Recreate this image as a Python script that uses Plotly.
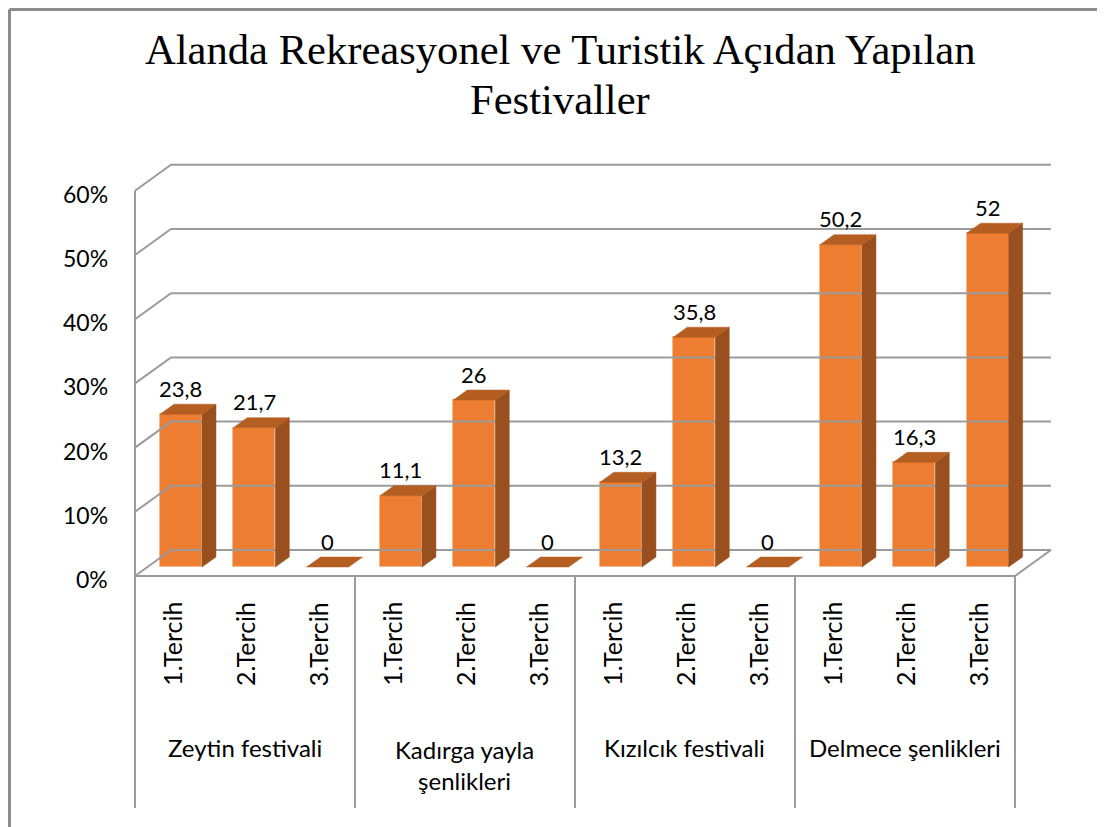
import plotly.graph_objects as go

# ---------------- data ----------------
title_lines = ["Alanda Rekreasyonel ve Turistik Açıdan Yapılan", "Festivaller"]
groups = ["Zeytin festivali", "Kadırga yayla<br>şenlikleri", "Kızılcık festivali", "Delmece şenlikleri"]
choices = ["1.Tercih", "2.Tercih", "3.Tercih"]
zeytin = [23.8, 21.7, 0]
kadirga = [11.1, 26, 0]
kizilcik = [13.2, 35.8, 0]
delmece = [50.2, 16.3, 52]
y_ticks = [0, 10, 20, 30, 40, 50, 60]

values = zeytin + kadirga + kizilcik + delmece
n = len(values)

# ---------------- geometry / style ----------------
W, H = 1105, 827
OFF = 8           # page body margin in the browser
PX_U = 73.33      # px per category slot
PX_V = 6.42       # px per percent
LEFT_PX = 135 - OFF   # front-left edge of floor
BASE_PX = 567 - OFF   # bar base
BAR_DX = 9.3 / PX_U
BAR_W = 42 / PX_U
SIDE_DX = 14 / PX_U
SIDE_DY = 10 / PX_V
FRONT_DY = -9 / PX_V
BACK_DY = 17 / PX_V
BACK_DX = 36 / PX_U
BOTTOM_V = -(808 - OFF - BASE_PX) / PX_V


def py(px_ref):
    """reference pixel row -> paper fraction"""
    return 1 - (px_ref - OFF) / H


def px_(px_ref):
    return (px_ref - OFF) / W


x_range = [-0.5 - LEFT_PX / PX_U, -0.5 + (W - LEFT_PX) / PX_U]
y_range = [-(H - BASE_PX) / PX_V, BASE_PX / PX_V]

FRONT = "#ED7D31"
SIDE = "#9A4F1E"
TOP = "#B55E22"
GRID = "#9B9B9B"
FONT = "Lato"

fig = go.Figure()

# back wall gridlines + left diagonals
gx, gy = [], []
for g in y_ticks:
    gx += [-0.5, -0.5 + BACK_DX, n - 0.5 + BACK_DX, None]
    gy += [g + FRONT_DY, g + BACK_DY, g + BACK_DY, None]
# floor front edge and right diagonal
gx += [-0.5, n - 0.5, n - 0.5 + BACK_DX, None]
gy += [FRONT_DY, FRONT_DY, BACK_DY, None]
# front vertical axis line
gx += [-0.5, -0.5, None]
gy += [y_ticks[-1] + FRONT_DY, BOTTOM_V, None]
# category group separators
for k in range(1, len(groups) + 1):
    xs = k * len(choices) - 0.5
    gx += [xs, xs, None]
    gy += [FRONT_DY, BOTTOM_V, None]
fig.add_trace(go.Scatter(x=gx, y=gy, mode="lines", line=dict(color=GRID, width=2),
                         hoverinfo="skip", showlegend=False))

# bars: front faces
bar_x = [i + BAR_DX for i in range(n)]
fig.add_trace(go.Bar(x=bar_x, y=values, width=BAR_W, base=0,
                     marker=dict(color=FRONT, line=dict(color="#F6B98E", width=1)),
                     showlegend=False, hoverinfo="skip"))

# side and top faces
sx, sy, tx, ty = [], [], [], []
for xc, v in zip(bar_x, values):
    xl, xr = xc - BAR_W / 2, xc + BAR_W / 2
    if v > 0:
        sx += [xr, xr + SIDE_DX, xr + SIDE_DX, xr, xr, None]
        sy += [0, SIDE_DY, v + SIDE_DY, v, 0, None]
    tx += [xl, xl + SIDE_DX, xr + SIDE_DX, xr, xl, None]
    ty += [v, v + SIDE_DY, v + SIDE_DY, v, v, None]
fig.add_trace(go.Scatter(x=sx, y=sy, mode="lines", fill="toself", fillcolor=SIDE,
                         line=dict(color=SIDE, width=0.5), hoverinfo="skip", showlegend=False))
fig.add_trace(go.Scatter(x=tx, y=ty, mode="lines", fill="toself", fillcolor=TOP,
                         line=dict(color=TOP, width=0.5), hoverinfo="skip", showlegend=False))

annotations = []
# data labels
for xc, v in zip(bar_x, values):
    txt = ("%g" % v).replace(".", ",")
    annotations.append(dict(x=xc, y=v, text=txt, showarrow=False, yshift=26,
                            xanchor="center", yanchor="middle",
                            font=dict(family=FONT, size=22, color="black")))
# value axis labels
for g in y_ticks:
    annotations.append(dict(x=-0.5, y=g + FRONT_DY, text=f"{g}%", showarrow=False,
                            xanchor="right", yanchor="middle", xshift=-25, yshift=-3,
                            font=dict(family=FONT, size=23, color="black")))
# category labels
for i in range(n):
    annotations.append(dict(x=i, y=py(644), yref="paper", text=choices[i % len(choices)],
                            showarrow=False, textangle=-90, xanchor="center", yanchor="middle",
                            font=dict(family=FONT, size=25, color="black")))
# group labels
for k, gname in enumerate(groups):
    yc = 747 if "<br>" not in gname else 765
    annotations.append(dict(x=k * len(choices) + 1, y=py(yc), yref="paper", text=gname,
                            showarrow=False, xanchor="center", yanchor="middle",
                            font=dict(family=FONT, size=24, color="black")))
# title
for line, yc in zip(title_lines, [50, 99]):
    annotations.append(dict(x=px_(560), y=py(yc), xref="paper", yref="paper", text=line,
                            showarrow=False, xanchor="center", yanchor="middle",
                            font=dict(family="Liberation Serif", size=42.6, color="black")))

# outer chart frame (top and left edges visible in the reference)
BX, BY = 1.5 / W, 1 - 1.5 / H
shapes = [
    dict(type="line", xref="paper", yref="paper", x0=BX, x1=BX, y0=0, y1=BY,
         line=dict(color="#8C8C8C", width=3)),
    dict(type="line", xref="paper", yref="paper", x0=BX, x1=1, y0=BY, y1=BY,
         line=dict(color="#8C8C8C", width=3)),
]

fig.update_layout(
    width=W, height=H, autosize=False,
    margin=dict(l=0, r=0, t=0, b=0),
    paper_bgcolor="white", plot_bgcolor="white",
    xaxis=dict(range=x_range, visible=False, fixedrange=True),
    yaxis=dict(range=y_range, visible=False, fixedrange=True),
    annotations=annotations, shapes=shapes,
    showlegend=False, bargap=0,
)

fig.write_html("out.html")
